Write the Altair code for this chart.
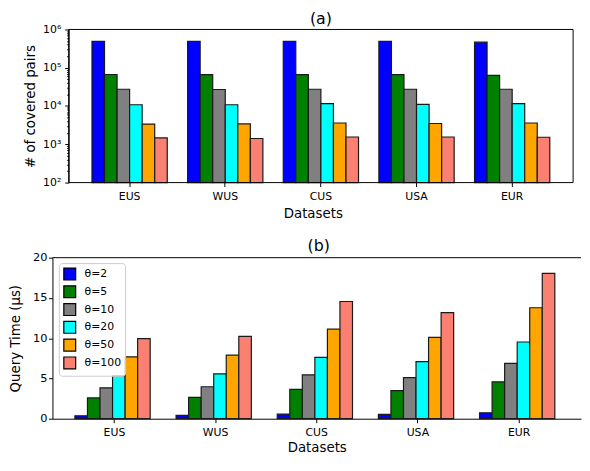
import altair as alt
import pandas as pd

datasets = ["EUS", "WUS", "CUS", "USA", "EUR"]
thetas = ["θ=2", "θ=5", "θ=10", "θ=20", "θ=50", "θ=100"]
colors = ["#0000ff", "#008000", "#808080", "#00ffff", "#ffa500", "#fa8072"]

# (a) number of covered pairs (log scale)
pairs_theta2 = [490000, 490000, 490000, 490000, 465000]
pairs_theta5 = [66700, 66000, 66000, 66000, 63000]
pairs_theta10 = [27400, 27000, 27400, 27400, 27400]
pairs_theta20 = [10800, 10800, 11500, 11000, 11500]
pairs_theta50 = [3380, 3400, 3600, 3500, 3600]
pairs_theta100 = [1470, 1420, 1550, 1550, 1530]

# (b) query time in microseconds
time_theta2 = [0.37, 0.41, 0.57, 0.53, 0.74]
time_theta5 = [2.58, 2.66, 3.64, 3.48, 4.58]
time_theta10 = [3.84, 3.97, 5.44, 5.11, 6.87]
time_theta20 = [5.36, 5.56, 7.61, 7.08, 9.53]
time_theta50 = [7.69, 7.89, 11.12, 10.10, 13.78]
time_theta100 = [9.94, 10.22, 14.56, 13.17, 18.04]

pairs_series = [pairs_theta2, pairs_theta5, pairs_theta10, pairs_theta20, pairs_theta50, pairs_theta100]
time_series = [time_theta2, time_theta5, time_theta10, time_theta20, time_theta50, time_theta100]

rows_a = []
rows_b = []
for t, pv, tv in zip(thetas, pairs_series, time_series):
    for d, p, q in zip(datasets, pv, tv):
        rows_a.append({"dataset": d, "theta": t, "pairs": p})
        rows_b.append({"dataset": d, "theta": t, "time": q})
df_a = pd.DataFrame(rows_a)
df_b = pd.DataFrame(rows_b)
frame_df = pd.DataFrame({"edge": ["frame"]})

FONT = "DejaVu Sans"
decades = [100, 1000, 10000, 100000, 1000000]
minor = [d * k for d in decades[:-1] for k in range(2, 10)]

# panel (a)'s frame starts INSET px right of panel (b)'s plot origin
INSET = 16.4
WA = 527
HA = 155
WB = 535
HB = 163

xoff = alt.XOffset("theta:N", sort=thetas, scale=alt.Scale(domain=thetas, paddingInner=0, paddingOuter=0))

def x_axis(title_pad, domain=True):
    return alt.Axis(labelAngle=0, tickSize=4, labelPadding=4, titlePadding=title_pad, domain=domain,
                    labelFontSize=11, titleFontSize=13.5, domainColor="black",
                    tickColor="black", labelColor="black", titleColor="black",
                    titleFontWeight="normal", labelFont=FONT, titleFont=FONT)

bars_a = alt.Chart(df_a).mark_bar(stroke="#1a1a1a", strokeWidth=1.2).encode(
    x=alt.X("dataset:N", sort=datasets, title="Datasets",
            scale=alt.Scale(paddingInner=0.213, paddingOuter=0.3285, align=0.629),
            axis=x_axis(5, domain=False)),
    xOffset=xoff,
    y=alt.Y("pairs:Q", title="# of covered pairs",
            scale=alt.Scale(type="log", domain=[100, 1000000], nice=False, clamp=True),
            axis=alt.Axis(values=decades + minor, grid=False, labelOverlap=False, labelFlush=False,
                          offset=-INSET,
                          labelExpr="datum.value == 100 ? '10²' : datum.value == 1000 ? '10³' : datum.value == 10000 ? '10⁴' : datum.value == 100000 ? '10⁵' : datum.value == 1000000 ? '10⁶' : ''",
                          tickSize={"condition": {"test": "indexof([100,1000,10000,100000,1000000], datum.value) >= 0", "value": 4}, "value": 2},
                          labelPadding=4, titlePadding=5, labelFontSize=11, titleFontSize=13.5,
                          domainColor="black", tickColor="black", labelColor="black",
                          titleColor="black", titleFontWeight="normal", labelFont=FONT, titleFont=FONT)),
    color=alt.Color("theta:N", sort=thetas, scale=alt.Scale(domain=thetas, range=colors), legend=None),
)

frame_a = alt.Chart(frame_df).mark_rect(fillOpacity=0, stroke="black", strokeWidth=1).encode(
    x=alt.value(INSET), x2=alt.value(WA), y=alt.value(0), y2=alt.value(HA)
)

top = alt.layer(bars_a, frame_a).properties(
    width=WA, height=HA,
    title=alt.Title("(a)", fontSize=16, fontWeight="normal", frame="group", offset=-3.5, dx=8.2,
                    font=FONT, color="black"),
    view=alt.ViewBackground(strokeOpacity=0),
)

color_bot = alt.Color("theta:N", sort=thetas, scale=alt.Scale(domain=thetas, range=colors),
                      legend=alt.Legend(orient="none", legendX=6.5, legendY=5.5, title=None,
                                        symbolType="square", symbolSize=144, symbolStrokeColor="black",
                                        symbolStrokeWidth=1.2, symbolOpacity=1, labelFontSize=11,
                                        labelOffset=8, rowPadding=0, padding=4,
                                        fillColor="rgba(255,255,255,0.8)", strokeColor="#cccccc",
                                        cornerRadius=3, labelColor="black", labelFont=FONT))

bars_b = alt.Chart(df_b).mark_bar(stroke="#1a1a1a", strokeWidth=1.2).encode(
    x=alt.X("dataset:N", sort=datasets, title="Datasets",
            scale=alt.Scale(paddingInner=0.219, paddingOuter=0.222), axis=x_axis(3)),
    xOffset=xoff,
    y=alt.Y("time:Q", title="Query Time (μs)",
            scale=alt.Scale(domain=[0, 20], nice=False),
            axis=alt.Axis(values=[0, 5, 10, 15, 20], grid=False, tickSize=4, labelPadding=1.5,
                          titlePadding=10, labelFontSize=11.5, titleFontSize=13.5,
                          domainColor="black", tickColor="black", labelColor="black",
                          titleColor="black", titleFontWeight="normal", labelFont=FONT, titleFont=FONT)),
    color=color_bot,
)

top_line = alt.Chart(frame_df).mark_rule(color="black", strokeWidth=1).encode(y=alt.value(0))

bottom = alt.layer(bars_b, top_line).properties(
    width=WB, height=HB,
    title=alt.Title("(b)", fontSize=16, fontWeight="normal", frame="group", offset=-2, dx=2, font=FONT, color="black"),
    view=alt.ViewBackground(strokeOpacity=0),
)

chart = alt.vconcat(top, bottom, spacing=18).resolve_scale(
    color="independent"
).properties(
    padding={"left": 0, "top": 0, "right": 0, "bottom": -2}
).configure(font=FONT).configure_axis(grid=False)

chart.save("out.html", embed_options={"renderer": "svg", "actions": False})
